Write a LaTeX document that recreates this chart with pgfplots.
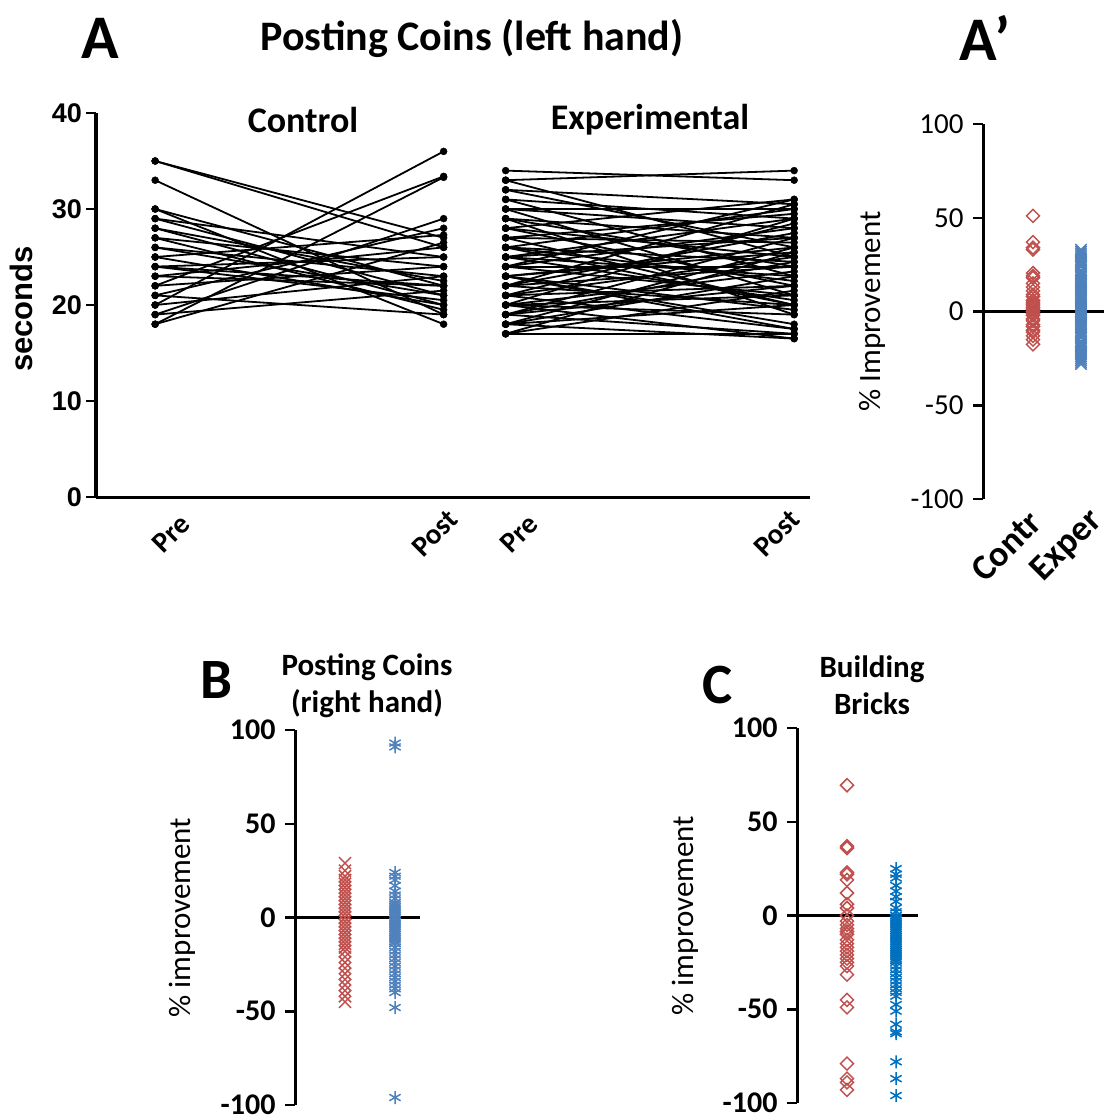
\documentclass[border=0pt]{standalone}
\usepackage{pgfplots}
\pgfplotsset{compat=1.18}
\usepackage{pgfplotstable}
\usepackage{fontspec}
\setmainfont{Carlito}
\newfontfamily\arial{Liberation Sans}
\definecolor{cred}{HTML}{C0504D}
\definecolor{cblue}{HTML}{4F81BD}
\definecolor{cbluec}{HTML}{0070C0}

% panel A: seconds before / after
\pgfplotstableread{
pre post
35 27
35 26
33 19
30 22
30 18
29 25
29 21
28 22.5
28 20
27 24
27 19.5
26 23
26 21
25 27.3
25 20
24 22
24 25
24 20.5
23 26
23 22
22 33.4
22 24
21 28
21 19
20 36
20 23
19 29
19 21.5
18 33.3
18 26.5
}\ctrl
\pgfplotstableread{
pre post
34 33
33 34
33 25
32 30.5
32 26
31 29
31 23
30 28
30 30
30 21
29 27
29 24
29 19
28 31
28 25
28 22
27 29.5
27 26.5
27 20
26 30
26 24.5
26 22.5
25 29
25 27
25 23
25 20.5
24 31
24 28
24 24
24 21
23 26
23 25.5
23 19.5
23 18
22 30.5
22 27.5
22 24
22 20
21 28.5
21 25
21 22
21 17.5
20 29
20 23.5
20 21
20 19
19 27
19 24.5
19 22
19 17
18 26
18 23
18 20
18 16.5
17 17
17 21.5
17 25.5
20 16.5
23 17.5
26 20
}\expt

% % improvement
\pgfplotstableread{
v
51
37
34
33
20.5
19
18
15
13
11
9
8
6
5
4
3
2
1
0
-1
-2
-4
-5
-7
-8
-10
-11
-13
-15
-17.5
}\apc
\pgfplotstableread{
v
33
32
31
30
29
28
27
26
25
24
22
21
20
19
18
17
16
15
14
13
12
11
10
9
8
7
6
5
4
3
2
1
0
-1
-2
-3
-4
-5
-6
-7
-8
-9
-10
-11
-12
-13
-14
-16
-17
-18
-19
-20
-21
-22
-23
-24
-25
-26
-27
-28
}\ape
\pgfplotstableread{
v
29
25
22
20
18
16
14
12
10
8
6
4
2
0
-2
-4
-6
-8
-10
-12
-14
-16
-18
-21
-24
-27
-30
-33
-36
-39
-42
-45
}\bpc
\pgfplotstableread{
v
93
91
24
22
20
17
14
12
10
8
7
6
5
4
3
2
1
0
-1
-2
-3
-4
-5
-6
-7
-8
-9
-10
-11
-12
-13
-14
-16
-18
-20
-22
-24
-26
-28
-30
-32
-34
-36
-38
-40
-48
-96
}\bpe
\pgfplotstableread{
v
69.5
37
36
23
22
19
12
6
4
0
-3
-5
-7
-8.5
-10
-13
-15
-17
-19
-21
-23
-25
-27
-31.5
-45
-49
-79
-87
-89
-93
}\cpc
\pgfplotstableread{
v
25
22
20
16
13
10
7.5
4
2
0
-1
-2
-3
-4
-5
-6
-7
-8
-9
-10
-11
-12
-13
-14
-15
-16
-17
-18
-19
-20
-21
-22
-23
-24
-25
-27
-29
-31
-33
-35
-37
-39
-41
-43
-47.5
-51
-58
-62
-63
-78
-87
-96
}\cpe

\pgfplotsset{
  pct/.style={anchor=south west, scale only axis, height=375bp,
    ymin=-100, ymax=100, xmin=0, clip=false,
    axis y line*=left, axis x line*=bottom, x axis line style={draw=none},
    y axis line style={line width=3bp},
    ytick={-100,-50,0,50,100}, yticklabels={-100,-50,0,50,100},
    tick align=outside, major tick length=10bp,
    y tick style={line width=2.5bp, black},
    x tick style={draw=none},
    yticklabel style={anchor=east, xshift=-6bp},
    ylabel style={font=\fontsize{31bp}{36bp}\selectfont, anchor=center}},
}

\begin{document}
\begin{tikzpicture}
\useasboundingbox (0,0) rectangle (1112bp,-1116bp);

% ---- A
\begin{axis}[at={(96bp,-497bp)}, anchor=south west, scale only axis,
  width=714bp, height=384bp, xmin=0.795, xmax=3.27, ymin=0, ymax=40,
  axis lines*=left, axis line style={line width=3bp},
  ytick={0,10,20,30,40}, yticklabels={0,10,20,30,40},
  tick align=outside, major tick length=9.5bp,
  y tick style={line width=2.5bp, black}, x tick style={draw=none},
  yticklabel style={font=\arial\bfseries\fontsize{27bp}{32bp}\selectfont, anchor=east, xshift=-1bp},
  xtick={1.055,1.970,2.261,3.155}, xticklabels={Pre,Post,Pre,Post},
  xticklabel style={font=\bfseries\fontsize{29bp}{34bp}\selectfont, anchor=center, yshift=-27bp, rotate=45},
  ylabel={seconds},
  ylabel style={font=\arial\bfseries\fontsize{31bp}{36bp}\selectfont, at={(axis description cs:-0.105,0.49)}, anchor=center},
  clip=false]
\addplot[black, line width=1.8bp, no markers, quiver={u=1, v=\thisrow{post}-\thisrow{pre}}] table[x expr=1, y=pre] {\ctrl};
\addplot[black, line width=1.8bp, no markers, quiver={u=1, v=\thisrow{post}-\thisrow{pre}}] table[x expr=2.215, y=pre] {\expt};
\addplot[only marks, mark=*, mark size=3.5bp, black] table[x expr=1, y=pre] {\ctrl};
\addplot[only marks, mark=*, mark size=3.5bp, black] table[x expr=2, y=post] {\ctrl};
\addplot[only marks, mark=*, mark size=3.5bp, black] table[x expr=2.215, y=pre] {\expt};
\addplot[only marks, mark=*, mark size=3.5bp, black] table[x expr=3.215, y=post] {\expt};
\end{axis}
\node[font=\bfseries\fontsize{62bp}{70bp}\selectfont] at (100bp,-38bp) {A};
\node[font=\bfseries\fontsize{42bp}{50bp}\selectfont] at (472bp,-38bp) {Posting Coins (left hand)};
\node[font=\bfseries\fontsize{62bp}{70bp}\selectfont] at (985bp,-38bp) {A’};
\node[font=\bfseries\fontsize{36bp}{42bp}\selectfont] at (303bp,-120bp) {Control};
\node[font=\bfseries\fontsize{36bp}{42bp}\selectfont] at (650bp,-120bp) {Experimental};

% ---- A'
\begin{axis}[pct, at={(983bp,-499bp)}, width=121bp, xmax=121,
  yticklabel style={font=\fontsize{29bp}{34bp}\selectfont},
  ylabel={\% Improvement}, ylabel style={at={(axis description cs:-0.917,0.5)}},
  xtick={23,84}, xticklabels={Contr,Exper},
  xticklabel style={font=\bfseries\fontsize{36bp}{42bp}\selectfont, anchor=center, yshift=-37bp, rotate=45}]
\addplot[black, line width=2.5bp] coordinates {(0,0) (121,0)};
\addplot[only marks, mark=square, mark size=4.6bp, mark options={rotate=45, line width=1.5bp}, cred] table[x expr=50, y=v] {\apc};
\addplot[only marks, mark=x, mark size=8bp, mark options={line width=1.5bp}, cblue] table[x expr=98, y=v] {\ape};
\end{axis}

% ---- B
\begin{axis}[pct, at={(295bp,-1105bp)}, width=125bp, xmax=125, xtick=\empty,
  yticklabel style={font=\bfseries\fontsize{30bp}{36bp}\selectfont},
  ylabel={\% improvement}, ylabel style={at={(axis description cs:-0.904,0.5)}}]
\addplot[black, line width=2.5bp] coordinates {(0,0) (125,0)};
\addplot[only marks, mark=x, mark size=8.5bp, mark options={line width=1.5bp}, cred] table[x expr=50, y=v] {\bpc};
\addplot[only marks, mark=asterisk, mark size=6.5bp, mark options={line width=1.5bp}, cblue] table[x expr=100, y=v] {\bpe};
\end{axis}
\node[font=\bfseries\fontsize{57bp}{64bp}\selectfont] at (216bp,-680bp) {B};
\node[font=\bfseries\fontsize{31bp}{37bp}\selectfont, align=center] at (367bp,-686bp) {Posting Coins\\(right hand)};

% ---- C
\begin{axis}[pct, at={(797bp,-1103bp)}, width=121bp, xmax=121, xtick=\empty,
  yticklabel style={font=\bfseries\fontsize{30bp}{36bp}\selectfont},
  ylabel={\% improvement}, ylabel style={at={(axis description cs:-0.926,0.5)}}]
\addplot[black, line width=2.5bp] coordinates {(0,0) (121,0)};
\addplot[only marks, mark=square, mark size=4.6bp, mark options={rotate=45, line width=1.5bp}, cred] table[x expr=50, y=v] {\cpc};
\addplot[only marks, mark=asterisk, mark size=6.5bp, mark options={line width=1.5bp}, cbluec] table[x expr=99, y=v] {\cpe};
\end{axis}
\node[font=\bfseries\fontsize{57bp}{64bp}\selectfont] at (718bp,-685bp) {C};
\node[font=\bfseries\fontsize{31bp}{37bp}\selectfont, align=center] at (872bp,-685bp) {Building\\Bricks};
\end{tikzpicture}
\end{document}
